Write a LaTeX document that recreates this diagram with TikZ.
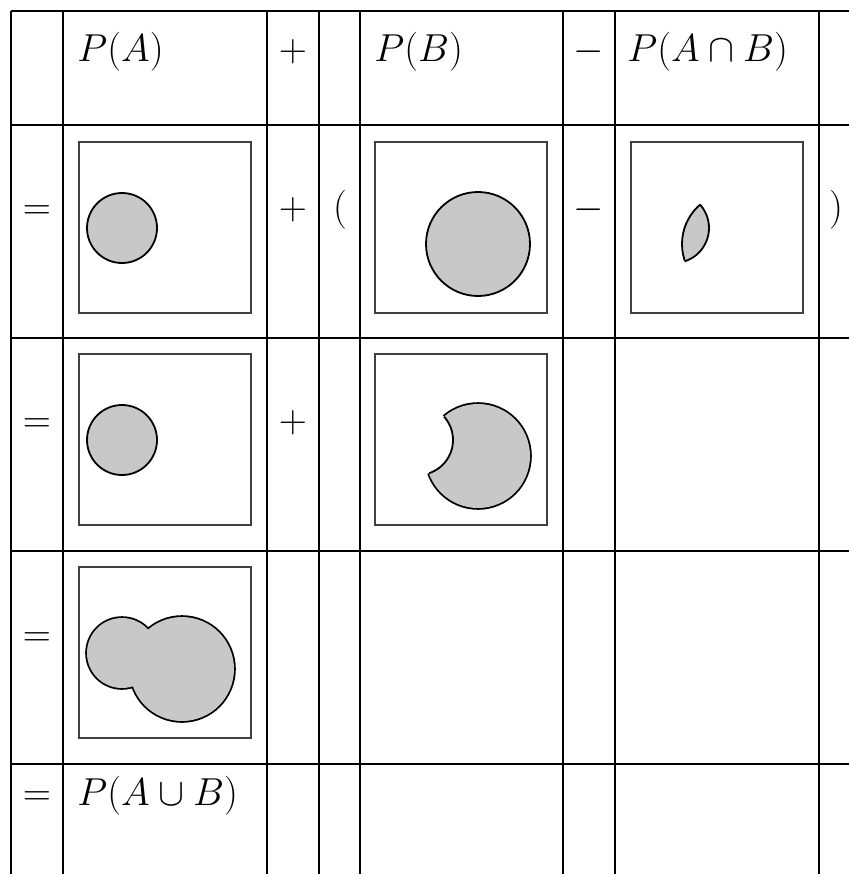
\RequirePackage{fix-cm}
\documentclass[tikz,border=0pt]{standalone}
\definecolor{blobgray}{RGB}{200,200,200}
\begin{document}
\begin{tikzpicture}[x=0.5pt,y=-0.5pt,
  grid/.style={line width=0.8pt,draw=black},
  frame/.style={line width=1.2pt,draw=black!75},
  outl/.style={line width=0.9pt,draw=black},
  sym/.style={inner sep=0pt,anchor=base,font=\fontsize{19.5}{24}\selectfont},
  lbl/.style={inner sep=0pt,anchor=base west,font=\fontsize{19.5}{24}\selectfont},
]
\useasboundingbox (0,0) rectangle (849,874);
\fill[white] (0,0) rectangle (849,874);
% table grid
\foreach \gx in {11,63,267,319,360,563,615,819}
  \draw[grid] (\gx,11) -- (\gx,874);
\foreach \gy in {11,125,338,551,764}
  \draw[grid] (11,\gy) -- (849,\gy);
\def\cA{(43,86) circle[radius=17.5pt]}
\def\cB{(103,102) circle[radius=26pt]}
\def\bx{(0,0) rectangle (172,171)}
% row 2
\begin{scope}[shift={(79,142)}]
  \draw[frame] \bx;
  \filldraw[fill=blobgray,outl] \cA;
\end{scope}
\begin{scope}[shift={(375,142)}]
  \draw[frame] \bx;
  \filldraw[fill=blobgray,outl] \cB;
\end{scope}
\begin{scope}[shift={(631,142)}]
  \draw[frame] \bx;
  \begin{scope}
    \clip \cA;
    \filldraw[fill=blobgray,outl] \cB;
  \end{scope}
  \begin{scope}
    \clip \cB;
    \draw[outl] \cA;
  \end{scope}
\end{scope}
% row 3
\begin{scope}[shift={(79,354)}]
  \draw[frame] \bx;
  \filldraw[fill=blobgray,outl] \cA;
\end{scope}
\begin{scope}[shift={(375,354)}]
  \draw[frame] \bx;
  \draw[outl,line width=1.8pt] \cB;
  \fill[blobgray] \cB;
  \fill[white] \cA;
  \begin{scope}
    \clip \cB;
    \draw[outl] \cA;
  \end{scope}
\end{scope}
% row 4
\begin{scope}[shift={(79,567)}]
  \draw[frame] \bx;
  \draw[outl,line width=1.8pt] \cA;
  \draw[outl,line width=1.8pt] \cB;
  \fill[blobgray] \cA;
  \fill[blobgray] \cB;
\end{scope}
% texts
\node[lbl] (pa) at (77,61) {$P(A)$};
\node[sym] (plus1) at (293,61) {$+$};
\node[lbl] (pb) at (374,61) {$P(B)$};
\node[sym] (minus1) at (589,61) {$-$};
\node[lbl] (pab) at (627,61) {$P(A\cap B)$};
\node[sym] (eq2) at (37,219) {$=$};
\node[sym] (plus2) at (293,219) {$+$};
\node[sym] (lpar) at (340,219) {$($};
\node[sym] (minus2) at (589,219) {$-$};
\node[sym] (rpar) at (836,219) {$)$};
\node[sym] (eq3) at (37,432) {$=$};
\node[sym] (plus3) at (293,432) {$+$};
\node[sym] (eq4) at (37,646) {$=$};
\node[sym] (eq5) at (37,805) {$=$};
\node[lbl] (pun) at (77,805) {$P(A\cup B)$};
\end{tikzpicture}
\end{document}
